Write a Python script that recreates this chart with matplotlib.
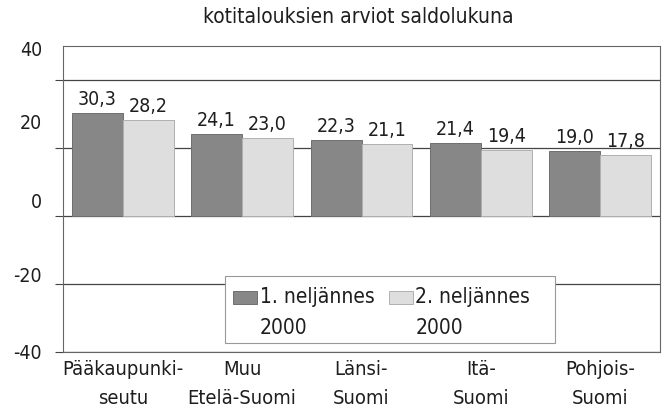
import matplotlib
matplotlib.use("Agg")
import matplotlib.pyplot as plt
import numpy as np
from matplotlib import font_manager
from matplotlib.patches import Rectangle
from matplotlib.legend_handler import HandlerPatch
from matplotlib.container import BarContainer

ttf = font_manager.fontManager.ttflist
cond = [f for f in ttf if ("ondensed" in str(f.stretch) or "arrow" in f.name or "Condensed" in f.name)]
fam, stretch = "Liberation Sans", "normal"
for cand in ["DejaVu Sans", "Noto Sans", "Liberation Sans Narrow", "Roboto Condensed", "Open Sans"]:
    hits = [f for f in cond if f.name == cand]
    if hits:
        fam = cand
        stretch = hits[0].stretch
        break
plt.rcParams['font.family'] = [fam, 'DejaVu Sans']
plt.rcParams['font.stretch'] = stretch

categories = ["Pääkaupunki-\nseutu", "Muu\nEtelä-Suomi", "Länsi-\nSuomi", "Itä-\nSuomi", "Pohjois-\nSuomi"]
q1 = [30.3, 24.1, 22.3, 21.4, 19.0]
q2 = [28.2, 23.0, 21.1, 19.4, 17.8]
series_labels = ["1. neljännes\n2000", "2. neljännes\n2000"]
value_labels_q1 = ["30,3", "24,1", "22,3", "21,4", "19,0"]
value_labels_q2 = ["28,2", "23,0", "21,1", "19,4", "17,8"]
yticks = [40, 20, 0, -20, -40]
ytick_labels = ["40", "20", "0", "-20", "-40"]
title = "kotitalouksien arviot saldolukuna"

W, H = 667, 419
fig = plt.figure(figsize=(W/100, H/100), dpi=100)
AX_L, AX_R, AX_T, AX_B = 63, 660, 46, 352
ax = fig.add_axes([AX_L/W, 1-AX_B/H, (AX_R-AX_L)/W, (AX_B-AX_T)/H])


def axfrac(px, py):
    return (px - AX_L) / (AX_R - AX_L), (AX_B - py) / (AX_B - AX_T)


x = np.arange(len(categories))
w = 0.427
c1 = "#878787"
c2 = "#dedede"
ax.set_axisbelow(True)
b1 = ax.bar(x - w/2, q1, w, color=c1, edgecolor="#6e6e6e", linewidth=0.7, label=series_labels[0], zorder=3)
b2 = ax.bar(x + w/2, q2, w, color=c2, edgecolor="#b0b0b0", linewidth=0.7, label=series_labels[1], zorder=3)

fs = 14
tc = "#1e1e1e"
for bars, labs in ((b1, value_labels_q1), (b2, value_labels_q2)):
    for rect, lab in zip(bars, labs):
        ax.annotate(lab, (rect.get_x() + rect.get_width()/2, rect.get_height()), xytext=(0, 3),
                    textcoords="offset points", ha="center", va="bottom", fontsize=fs, color=tc)

ax.set_xlim(-0.5, len(categories) - 0.5)
ax.set_ylim(-40, 50)
ax.set_yticks(yticks)
ax.set_yticklabels([])
ax.tick_params(axis="y", length=6, width=0.8, color="#444444", direction="out")
ax.yaxis.grid(True, color="#444444", linewidth=0.9)
ax.set_xticks(x)
ax.set_xticklabels(categories, fontsize=fs + 0.5, color=tc, linespacing=1.65)
ax.tick_params(axis="x", length=0, pad=6)
for s in ax.spines.values():
    s.set_color("#666666")
    s.set_linewidth(0.8)

# y tick labels, placed as in the reference (slightly above their gridlines)
label_shift_px = [30, 25, 14, 8, -1]
for v, lab, dy in zip(yticks, ytick_labels, label_shift_px):
    ax.annotate(lab, (0, v), xycoords=("axes fraction", "data"), xytext=(-15, dy*0.72),
                textcoords="offset points", ha="right", va="center", fontsize=fs, color=tc)

fig.text(358/W, 1-17/H, title, ha="center", va="center", fontsize=15, color=tc)

# legend frame
fx0, fy0 = axfrac(225, 343)
fx1, fy1 = axfrac(555, 276)
ax.add_patch(Rectangle((fx0, fy0), fx1 - fx0, fy1 - fy0, transform=ax.transAxes,
                       facecolor="white", edgecolor="#999999", linewidth=0.8, zorder=4))

lfs = 15


def top_patch(legend, orig_handle, xdescent, ydescent, width, height, fontsize):
    h = 9.4
    y0 = -ydescent + height / 2 + 0.77 * fontsize - h / 2
    return Rectangle((-xdescent, y0), width, h)


def from_first_child(tgt, orig):
    tgt.update_from(orig.patches[0])


leg = ax.legend(ncol=2, loc="upper left", bbox_to_anchor=axfrac(233, 287),
                borderaxespad=0, frameon=False, fontsize=lfs,
                handlelength=17.3/lfs, handleheight=0.6, handletextpad=0.12, columnspacing=0.7,
                borderpad=0, labelcolor=tc,
                handler_map={BarContainer: HandlerPatch(patch_func=top_patch, update_func=from_first_child)})
for t in leg.get_texts():
    t.set_linespacing(1.7)
leg.set_zorder(5)

fig.savefig("out.png", dpi=100)
